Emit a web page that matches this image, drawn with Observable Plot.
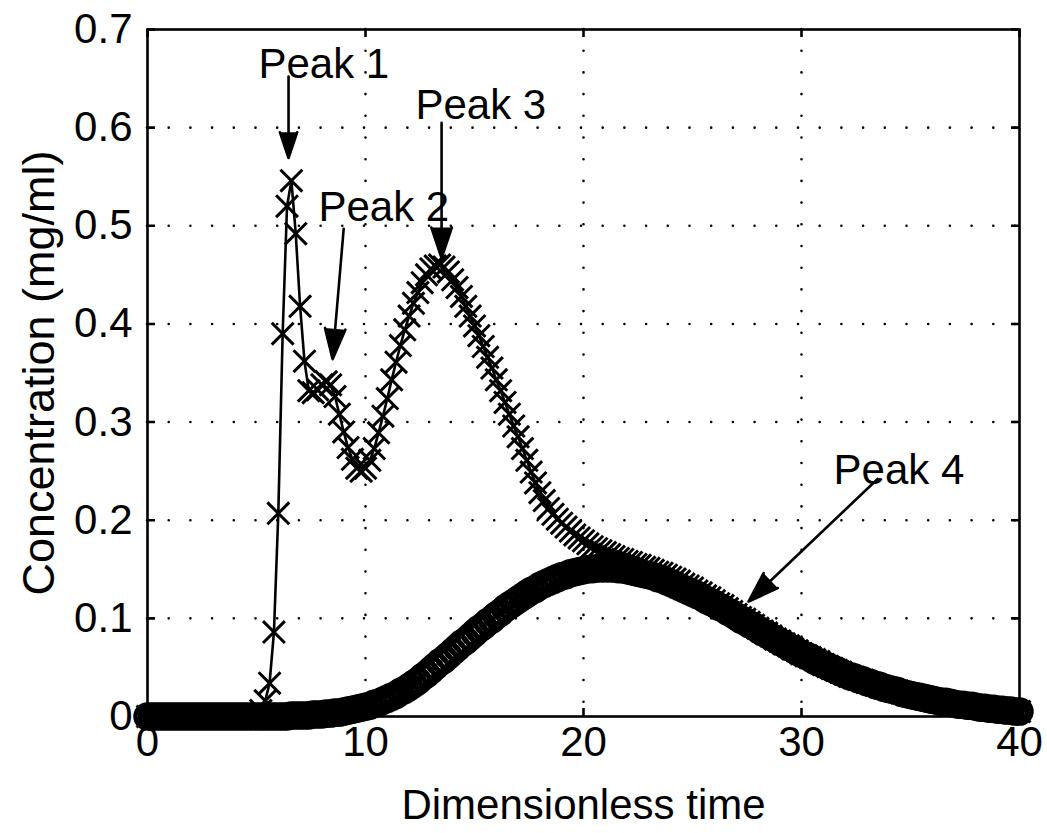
<!DOCTYPE html>
<html><head><meta charset="utf-8">
<script src="https://cdn.jsdelivr.net/npm/d3@7"></script>
<script src="https://cdn.jsdelivr.net/npm/@observablehq/plot@0.6"></script>
<style>
html,body{margin:0;padding:0;background:#fff;}
#chart svg{display:block;}
</style></head><body><div id="chart"></div>
<script>
// Sampling times (dimensionless)
const time = [
0,0.2,0.4,0.6,0.8, 1,1.2,1.4,1.6,1.8, 2,2.2,2.4,2.6,2.8, 3,3.2,3.4,3.6,3.8,
4,4.2,4.4,4.6,4.8, 5,5.2,5.4,5.6,5.8, 6,6.2,6.4,6.6,6.8, 7,7.2,7.4,7.6,7.8,
8,8.2,8.4,8.6,8.8, 9,9.2,9.4,9.6,9.8, 10,10.2,10.4,10.6,10.8, 11,11.2,11.4,11.6,11.8,
12,12.2,12.4,12.6,12.8, 13,13.2,13.4,13.6,13.8, 14,14.2,14.4,14.6,14.8, 15,15.2,15.4,15.6,15.8,
16,16.2,16.4,16.6,16.8, 17,17.2,17.4,17.6,17.8, 18,18.2,18.4,18.6,18.8, 19,19.2,19.4,19.6,19.8,
20,20.2,20.4,20.6,20.8, 21,21.2,21.4,21.6,21.8, 22,22.2,22.4,22.6,22.8, 23,23.2,23.4,23.6,23.8,
24,24.2,24.4,24.6,24.8, 25,25.2,25.4,25.6,25.8, 26,26.2,26.4,26.6,26.8, 27,27.2,27.4,27.6,27.8,
28,28.2,28.4,28.6,28.8, 29,29.2,29.4,29.6,29.8, 30,30.2,30.4,30.6,30.8, 31,31.2,31.4,31.6,31.8,
32,32.2,32.4,32.6,32.8, 33,33.2,33.4,33.6,33.8, 34,34.2,34.4,34.6,34.8, 35,35.2,35.4,35.6,35.8,
36,36.2,36.4,36.6,36.8, 37,37.2,37.4,37.6,37.8, 38,38.2,38.4,38.6,38.8, 39,39.2,39.4,39.6,39.8,
40];

// Mixture concentration (x markers with line)
const mixture = [
0,0,0,0,0, 0,0,0,0,0, 0,0,0,0,0, 0,0,0,0,0, 0,0,0,0,0,
0.002,0.006,0.016,0.034,0.086,
0.207,0.390,0.520,0.546,0.492,
0.418,0.362,0.332,0.330,0.333,
0.338,0.341,0.338,0.326,0.308,
0.290,0.274,0.262,0.253,0.250,
0.253,0.261,0.273,0.289,0.306,
0.324,0.343,0.361,0.378,0.394,
0.408,0.421,0.432,0.442,0.450,
0.456,0.459,0.460,0.458,0.453,
0.445,0.437,0.428,0.418,0.408,
0.398,0.388,0.377,0.366,0.355,
0.343,0.332,0.320,0.308,0.296,
0.285,0.273,0.261,0.249,0.238,
0.228,0.220,0.212,0.206,0.201,
0.197,0.193,0.189,0.185,0.182,
0.179,0.176,0.173,0.171,0.169,
0.167,0.165,0.163,0.161,0.160,
0.158,0.157,0.155,0.154,0.152,
0.151,0.149,0.147,0.146,0.144,
0.142,0.140,0.138,0.135,0.133,
0.131,0.128,0.126,0.123,0.121,
0.118,0.115,0.113,0.110,0.107,
0.104,0.101,0.099,0.096,0.093,
0.090,0.087,0.085,0.082,0.079,
0.077,0.074,0.072,0.069,0.067,
0.064,0.062,0.060,0.058,0.056,
0.053,0.051,0.049,0.047,0.045,
0.043,0.041,0.040,0.038,0.037,
0.035,0.034,0.032,0.031,0.029,
0.028,0.027,0.026,0.024,0.023,
0.022,0.021,0.020,0.019,0.018,
0.017,0.016,0.015,0.015,0.014,
0.013,0.012,0.012,0.011,0.011,
0.010,0.009,0.009,0.008,0.008,
0.007,0.007,0.006,0.006,0.005,
0.005];

// Peak 4 concentration (circle markers)
const peak4 = [
0,0,0,0,0, 0,0,0,0,0, 0,0,0,0,0, 0,0,0,0,0, 0,0,0,0,0, 0,0,0,0,0,
0,0,0,0.001,0.001,
0.001,0.001,0.001,0.002,0.002,
0.002,0.003,0.003,0.004,0.004,
0.005,0.006,0.007,0.008,0.009,
0.010,0.011,0.013,0.014,0.016,
0.018,0.020,0.022,0.025,0.027,
0.030,0.033,0.036,0.040,0.043,
0.047,0.051,0.055,0.058,0.062,
0.066,0.070,0.074,0.077,0.081,
0.085,0.089,0.092,0.096,0.099,
0.103,0.106,0.110,0.113,0.116,
0.119,0.122,0.125,0.128,0.130,
0.133,0.135,0.137,0.139,0.141,
0.143,0.144,0.146,0.147,0.148,
0.149,0.150,0.150,0.151,0.151,
0.151,0.151,0.151,0.150,0.150,
0.149,0.148,0.147,0.146,0.145,
0.144,0.143,0.141,0.140,0.138,
0.136,0.134,0.132,0.130,0.128,
0.126,0.124,0.122,0.119,0.117,
0.115,0.112,0.110,0.107,0.105,
0.102,0.099,0.097,0.094,0.092,
0.089,0.086,0.084,0.081,0.079,
0.076,0.074,0.071,0.069,0.066,
0.064,0.062,0.060,0.057,0.055,
0.053,0.051,0.049,0.047,0.045,
0.043,0.041,0.040,0.038,0.037,
0.035,0.034,0.032,0.031,0.029,
0.028,0.027,0.026,0.024,0.023,
0.022,0.021,0.020,0.019,0.018,
0.017,0.016,0.015,0.015,0.014,
0.013,0.012,0.012,0.011,0.011,
0.010,0.009,0.009,0.008,0.008,
0.007,0.007,0.006,0.006,0.005,
0.005];

const xTicks = [0, 10, 20, 30, 40];
const yTicks = [0, 0.1, 0.2, 0.3, 0.4, 0.5, 0.6, 0.7];
const xLabel = "Dimensionless time";
const yLabel = "Concentration (mg/ml)";

// Annotations (data coordinates)
const peakNames = ["Peak 1", "Peak 2", "Peak 3", "Peak 4"];
const peakTextX = [5.09, 7.84, 12.29, 31.47];
const peakTextY = [0.651, 0.505, 0.609, 0.237];
const arrowFromX = [6.47, 9.0, 13.49, 33.49];
const arrowFromY = [0.652, 0.497, 0.605, 0.242];
const arrowToX = [6.47, 8.49, 13.49, 27.57];
const arrowToY = [0.569, 0.364, 0.467, 0.117];

const mixRows = time.map((t, i) => ({t, c: mixture[i]}));
const p4Rows = time.map((t, i) => ({t, c: peak4[i]}));
const notes = peakNames.map((name, i) => ({
  name, tx: peakTextX[i], ty: peakTextY[i],
  x1: arrowFromX[i], y1: arrowFromY[i], x2: arrowToX[i], y2: arrowToY[i]
}));

const FONT = "'Liberation Sans', Arial, Helvetica, sans-serif";
const W = 1047, H = 833, ML = 147, MR = 28, MT = 29, MB = 117;
const plotH = H - MT - MB, plotW = W - ML - MR;
const tick = 8;

const chart = Plot.plot({
  width: W, height: H,
  marginLeft: ML, marginRight: MR, marginTop: MT, marginBottom: MB,
  style: {fontFamily: FONT, fontSize: "42px", background: "#fff", color: "#000"},
  x: {domain: [0, 40]},
  y: {domain: [0, 0.7]},
  marks: [
    // dotted grid
    Plot.ruleX(xTicks.filter(d => d > 0 && d < 40), {stroke: "#000", strokeWidth: 2.6, strokeDasharray: "0,21.7", strokeLinecap: "round"}),
    Plot.ruleY(yTicks.filter(d => d > 0 && d < 0.7), {stroke: "#000", strokeWidth: 2.6, strokeDasharray: "0,21.7", strokeLinecap: "round"}),
    // Peak 4 circles
    Plot.dot(p4Rows, {x: "t", y: "c", symbol: "circle", r: 12, stroke: "#000", strokeWidth: 4.5, fill: "none"}),
    // Mixture line + x markers
    Plot.line(mixRows, {x: "t", y: "c", stroke: "#000", strokeWidth: 2.6}),
    Plot.dot(mixRows, {x: "t", y: "c", symbol: "times", r: 10, stroke: "#000", strokeWidth: 3}),
    // frame and inward ticks on all sides
    Plot.frame({stroke: "#000", strokeWidth: 2.6}),
    Plot.ruleX(xTicks, {stroke: "#000", strokeWidth: 2.6, strokeDasharray: `${tick},${plotH - 2 * tick},${tick},0`}),
    Plot.ruleY(yTicks, {stroke: "#000", strokeWidth: 2.6, strokeDasharray: `${tick},${plotW - 2 * tick},${tick},0`}),
    // tick labels
    Plot.axisX(xTicks, {tickSize: 0, tickPadding: 10, tickFormat: d => String(d), label: null, fontSize: 42}),
    Plot.axisY(yTicks, {tickSize: 0, tickPadding: 15, tickFormat: d => String(d), label: null, fontSize: 42}),
    // axis labels
    Plot.text([xLabel], {frameAnchor: "bottom", dy: 102, lineAnchor: "bottom", textAnchor: "middle", text: d => d, fontSize: 42}),
    Plot.text([yLabel], {frameAnchor: "left", dx: -94, rotate: -90, lineAnchor: "bottom", textAnchor: "middle", text: d => d, fontSize: 45}),
    // annotations
    Plot.arrow(notes, {x1: "x1", y1: "y1", x2: "x2", y2: "y2", stroke: "#000", fill: "#000", strokeWidth: 2.6, headLength: 18.6, headAngle: 37}),
    Plot.text(notes, {x: "tx", y: "ty", text: "name", textAnchor: "start", lineAnchor: "bottom", fontSize: 42})
  ]
});
document.getElementById("chart").appendChild(chart);
</script>
</body></html>
